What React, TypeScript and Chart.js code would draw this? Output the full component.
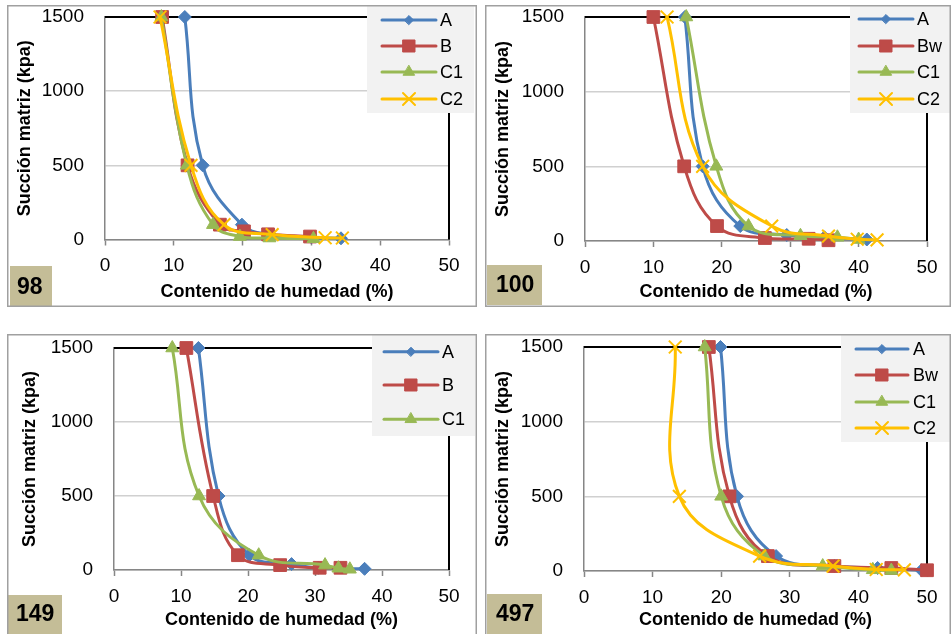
import React, { useEffect, useRef } from 'react';
import { Chart, registerables } from 'chart.js';
import { drawPoint } from 'chart.js/helpers';

Chart.register(...registerables);

// ---------- DATA ----------
const seriesNames98 = ['A', 'B', 'C1', 'C2'];
const x98A = [11.6, 14.2, 19.9, 24.0, 30.0, 34.3];
const y98A = [1500, 500, 100, 33, 15, 8];
const x98B = [8.3, 12.0, 16.7, 20.2, 23.7, 29.8];
const y98B = [1500, 500, 100, 55, 35, 20];
const x98C1 = [8.2, 11.9, 15.7, 19.6, 23.9, 30.3];
const y98C1 = [1500, 500, 100, 20, 10, 5];
const x98C2 = [8.0, 12.5, 17.3, 24.3, 32.0, 34.5];
const y98C2 = [1500, 500, 100, 33, 12, 10];

const seriesNames100 = ['A', 'Bw', 'C1', 'C2'];
const x100A = [14.6, 17.2, 22.7, 29.5, 35.0, 41.2];
const y100A = [1500, 500, 100, 40, 25, 10];
const x100Bw = [10.0, 14.5, 19.3, 26.3, 32.7, 35.6];
const y100Bw = [1500, 500, 100, 20, 15, 5];
const x100C1 = [14.8, 19.2, 23.9, 31.5, 36.9, 40.0];
const y100C1 = [1500, 500, 100, 35, 25, 10];
const x100C2 = [12.0, 17.2, 27.3, 35.6, 39.8, 42.7];
const y100C2 = [1500, 500, 100, 33, 12, 8];

const seriesNames149 = ['A', 'B', 'C1'];
const x149A = [12.6, 15.6, 20.2, 26.5, 30.5, 37.4];
const y149A = [1500, 500, 100, 40, 15, 8];
const x149B = [10.8, 14.8, 18.5, 24.8, 30.7, 33.8];
const y149B = [1500, 500, 100, 33, 15, 15];
const x149C1 = [8.7, 12.7, 21.6, 31.5, 33.5, 35.2];
const y149C1 = [1500, 500, 100, 33, 12, 5];

const seriesNames497 = ['A', 'Bw', 'C1', 'C2'];
const x497A = [19.9, 22.3, 28.0, 36.5, 42.8, 49.2];
const y497A = [1500, 500, 100, 33, 20, 5];
const x497Bw = [18.2, 21.2, 26.8, 36.5, 44.8, 50.0];
const y497Bw = [1500, 500, 100, 33, 20, 5];
const x497C1 = [17.6, 20.0, 26.3, 34.8, 42.1, 44.8];
const y497C1 = [1500, 500, 100, 33, 8, 3];
const x497C2 = [13.3, 13.9, 25.6, 36.3, 42.6, 46.7];
const y497C2 = [1500, 500, 100, 33, 10, 8];

const xTickValues = [0, 10, 20, 30, 40, 50];
const yTickValues = [0, 500, 1000, 1500];
const xTitle = 'Contenido de humedad (%)';
const yTitle = 'Succión matriz (kpa)';

// ---------- STYLES ----------
const FONT = "'Liberation Sans', Arial, sans-serif";
const STYLES = [
  { color: '#4a7ebb', pointStyle: 'rectRot', radius: 6.5, lradius: 4.5, bw: 1 },
  { color: '#be4b48', pointStyle: 'rect', radius: 9, lradius: 8.5, bw: 1 },
  { color: '#98b954', pointStyle: 'triangle', radius: 7.5, lradius: 6.5, bw: 1 },
  { color: '#ffc000', pointStyle: 'crossRot', radius: 9, lradius: 8.5, bw: 2 },
];

const zip = (xs: number[], ys: number[]) => xs.map((x, i) => ({ x, y: ys[i] }));

const panels = [
  {
    badge: '98', names: seriesNames98,
    series: [zip(x98A, y98A), zip(x98B, y98B), zip(x98C1, y98C1), zip(x98C2, y98C2)],
    left: 7, top: 5, w: 470, h: 302, bottomBorder: true,
    plot: { l: 98, r: 442, t: 12, b: 234.5 }, yTitlePad: 7, xTitlePad: 4,
    legend: { box: [360, 0, 467, 108], lx0: 375, lx1: 429, tx: 433, ys: [15, 41, 67, 94] },
    badgeBox: { x: 3, y: 261, w: 42, h: 40, tx: 10, ty: 283 },
  },
  {
    badge: '100', names: seriesNames100,
    series: [zip(x100A, y100A), zip(x100Bw, y100Bw), zip(x100C1, y100C1), zip(x100C2, y100C2)],
    left: 485, top: 5, w: 466, h: 302, bottomBorder: true,
    plot: { l: 100, r: 442, t: 12, b: 236 }, yTitlePad: 7, xTitlePad: 4,
    legend: { box: [365, 0, 466, 108], lx0: 374, lx1: 428, tx: 432, ys: [14, 41, 67, 94] },
    badgeBox: { x: 2, y: 260, w: 55, h: 40, tx: 11, ty: 281 },
  },
  {
    badge: '149', names: seriesNames149,
    series: [zip(x149A, y149A), zip(x149B, y149B), zip(x149C1, y149C1)],
    left: 7, top: 334, w: 470, h: 300, bottomBorder: false,
    plot: { l: 107, r: 442, t: 14, b: 236 }, yTitlePad: 12, xTitlePad: 3,
    legend: { box: [365, 0, 468, 102], lx0: 377, lx1: 431, tx: 435, ys: [17.7, 51, 85.3] },
    badgeBox: { x: 0, y: 261, w: 55, h: 39, tx: 9, ty: 281 },
  },
  {
    badge: '497', names: seriesNames497,
    series: [zip(x497A, y497A), zip(x497Bw, y497Bw), zip(x497C1, y497C1), zip(x497C2, y497C2)],
    left: 485, top: 334, w: 466, h: 300, bottomBorder: false,
    plot: { l: 99, r: 442, t: 13, b: 237 }, yTitlePad: 7, xTitlePad: 3,
    legend: { box: [356, 0, 466, 108], lx0: 371, lx1: 423, tx: 428, ys: [15, 41, 68, 94] },
    badgeBox: { x: 2, y: 260, w: 55, h: 40, tx: 11, ty: 281 },
  },
];

function Panel({ p }: { p: any }) {
  const ref = useRef<HTMLCanvasElement>(null);
  useEffect(() => {
    const deco = {
      id: 'deco',
      beforeDatasetsDraw(chart: any) {
        const { ctx, chartArea: a } = chart;
        ctx.save();
        ctx.strokeStyle = '#000';
        ctx.lineWidth = 2;
        ctx.beginPath();
        ctx.moveTo(a.left, a.top);
        ctx.lineTo(a.right, a.top);
        ctx.lineTo(a.right, a.bottom);
        ctx.stroke();
        ctx.restore();
      },
      afterDraw(chart: any) {
        const { ctx } = chart;
        ctx.save();
        // legend
        const L = p.legend;
        ctx.fillStyle = '#f2f2f2';
        ctx.fillRect(L.box[0], L.box[1], L.box[2] - L.box[0], L.box[3] - L.box[1]);
        p.names.forEach((name: string, i: number) => {
          const s = STYLES[i];
          const y = L.ys[i];
          ctx.strokeStyle = s.color;
          ctx.lineWidth = 3;
          ctx.lineCap = 'round';
          ctx.beginPath();
          ctx.moveTo(L.lx0, y);
          ctx.lineTo(L.lx1, y);
          ctx.stroke();
          ctx.fillStyle = s.color;
          ctx.strokeStyle = s.color;
          ctx.lineWidth = s.bw;
          drawPoint(ctx, { pointStyle: s.pointStyle, radius: s.lradius, rotation: 0, borderWidth: s.bw } as any, (L.lx0 + L.lx1) / 2, y);
          ctx.fillStyle = '#000';
          ctx.font = `18px ${FONT}`;
          ctx.textBaseline = 'middle';
          ctx.textAlign = 'left';
          ctx.fillText(name, L.tx, y + 1);
        });
        // badge
        const B = p.badgeBox;
        ctx.fillStyle = '#c4bd97';
        ctx.fillRect(B.x, B.y, B.w, B.h);
        ctx.fillStyle = '#000';
        ctx.font = `bold 23px ${FONT}`;
        ctx.textBaseline = 'middle';
        ctx.textAlign = 'left';
        ctx.fillText(p.badge, B.tx, B.ty);
        // panel border
        ctx.strokeStyle = '#a0a0a0';
        ctx.lineWidth = 1.5;
        ctx.beginPath();
        const w = chart.width, h = chart.height;
        if (p.bottomBorder) {
          ctx.moveTo(0.75, h - 0.75);
          ctx.lineTo(0.75, 0.75);
          ctx.lineTo(w - 0.75, 0.75);
          ctx.lineTo(w - 0.75, h - 0.75);
          ctx.closePath();
        } else {
          ctx.moveTo(0.75, h);
          ctx.lineTo(0.75, 0.75);
          ctx.lineTo(w - 0.75, 0.75);
          ctx.lineTo(w - 0.75, h);
        }
        ctx.stroke();
        ctx.restore();
      },
    };

    const datasets = p.series.map((data: any, i: number) => {
      const s = STYLES[i];
      return {
        label: p.names[i],
        data,
        showLine: true,
        borderColor: s.color,
        backgroundColor: s.color,
        borderWidth: 3,
        tension: 0.4,
        pointStyle: s.pointStyle,
        pointRadius: s.radius,
        pointBackgroundColor: s.color,
        pointBorderColor: s.color,
        pointBorderWidth: s.bw,
        clip: false,
        order: p.series.length - 1 - i,
      };
    });

    const chart = new Chart(ref.current as HTMLCanvasElement, {
      type: 'scatter',
      data: { datasets },
      plugins: [deco],
      options: {
        responsive: false,
        animation: false,
        devicePixelRatio: 1,
        events: [],
        layout: { padding: { left: 0, top: p.plot.t, right: p.w - p.plot.r, bottom: 0 } },
        plugins: { legend: { display: false }, tooltip: { enabled: false } },
        scales: {
          x: {
            type: 'linear',
            min: 0,
            max: 50,
            afterBuildTicks: (s: any) => { s.ticks = xTickValues.map((v) => ({ value: v })); },
            afterFit: (s: any) => {
              s.height = p.h - p.plot.b;
              s.paddingLeft = 0; s.paddingRight = 0; s.paddingTop = 0; s.paddingBottom = 0;
            },
            grid: { drawOnChartArea: false, drawTicks: true, tickLength: 6, tickColor: '#868686', tickWidth: 1.5 },
            border: { display: true, color: '#868686', width: 1.5 },
            ticks: { color: '#000', font: { family: FONT, size: 19 }, padding: 9, maxRotation: 0, callback: (v: any) => String(v) },
            title: { display: true, text: xTitle, color: '#000', font: { family: FONT, size: 18, weight: 'bold' }, padding: { top: 0, bottom: p.xTitlePad } },
          },
          y: {
            type: 'linear',
            min: 0,
            max: 1500,
            afterBuildTicks: (s: any) => { s.ticks = yTickValues.map((v) => ({ value: v })); },
            afterFit: (s: any) => {
              s.width = p.plot.l;
              s.paddingLeft = 0; s.paddingRight = 0; s.paddingTop = 0; s.paddingBottom = 0;
            },
            grid: { color: '#d0d0d0', lineWidth: 1.5, drawTicks: false },
            border: { display: true, color: '#868686', width: 1.5 },
            ticks: { color: '#000', font: { family: FONT, size: 19 }, padding: 21, callback: (v: any) => String(v) },
            title: { display: true, text: yTitle, color: '#000', font: { family: FONT, size: 18, weight: 'bold' }, padding: { top: p.yTitlePad, bottom: 0 } },
          },
        },
      } as any,
    });
    return () => chart.destroy();
  }, []);
  return (
    <div style={{ position: 'absolute', left: p.left, top: p.top, width: p.w, height: p.h }}>
      <canvas ref={ref} width={p.w} height={p.h} style={{ width: p.w, height: p.h, display: 'block' }} />
    </div>
  );
}

export default function App() {
  return (
    <div style={{ position: 'fixed', left: 0, top: 0, width: 951, height: 634, background: '#fff', overflow: 'hidden' }}>
      {panels.map((p, i) => (
        <Panel key={i} p={p} />
      ))}
    </div>
  );
}
